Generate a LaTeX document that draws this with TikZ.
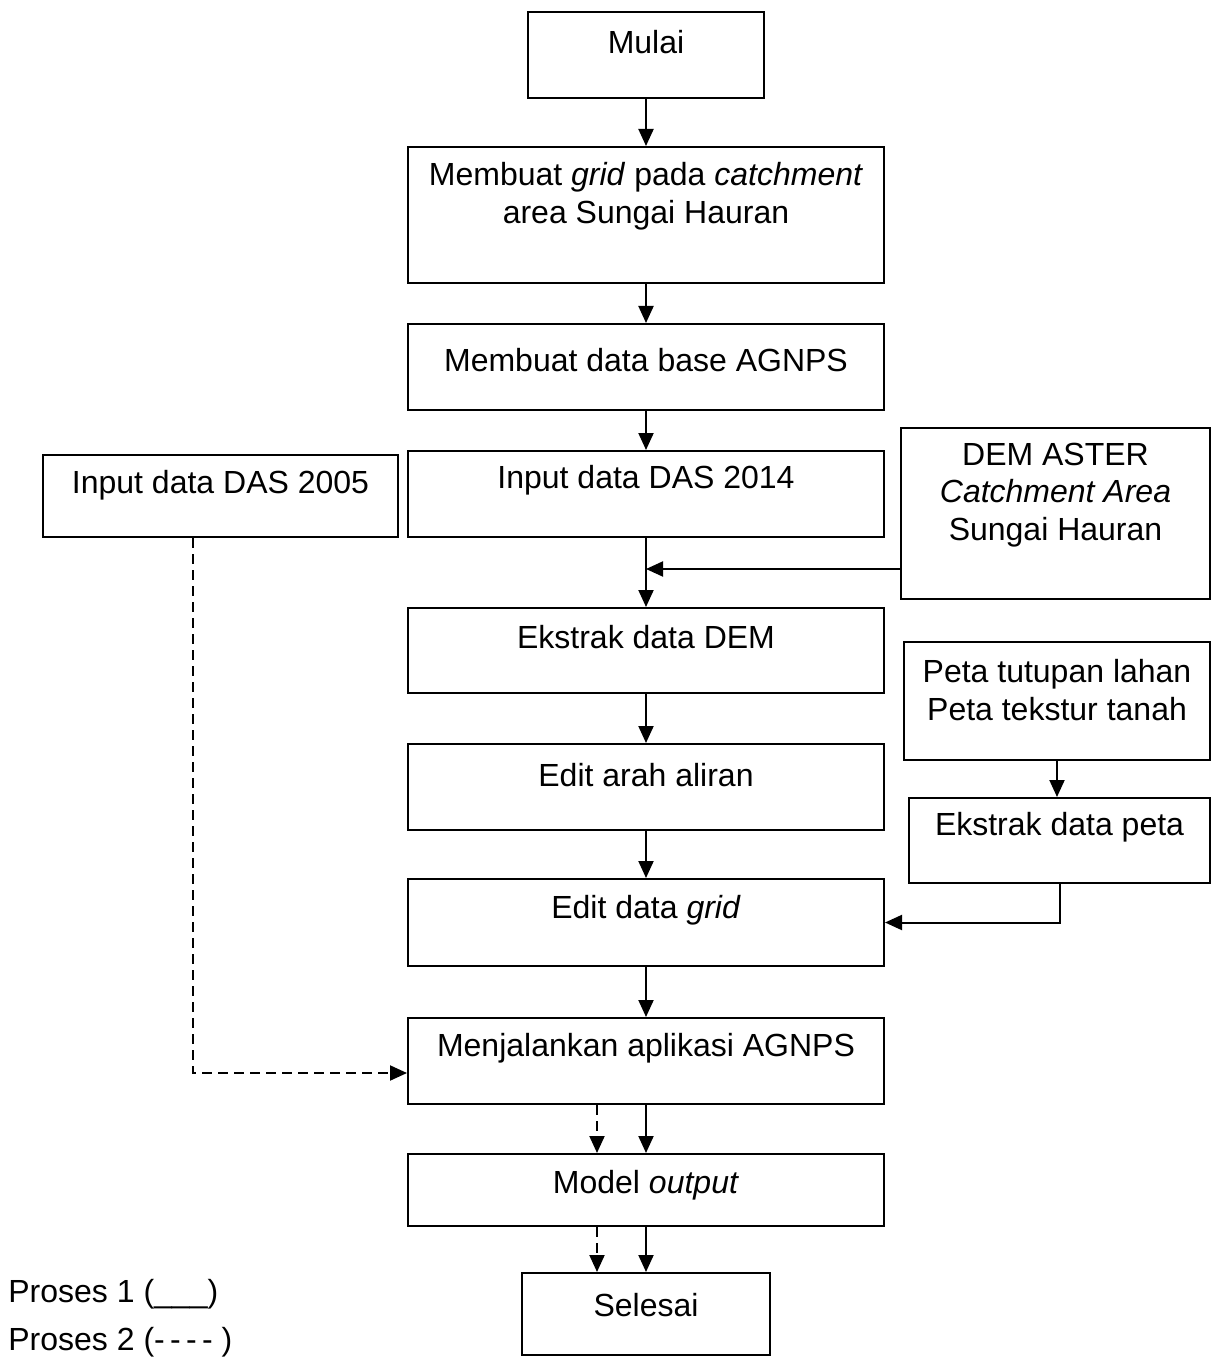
\documentclass[tikz,border=0pt]{standalone}
\usepackage{fontspec}
\setmainfont{Liberation Sans}
\usepackage{tikz}
\usetikzlibrary{arrows.meta,fit}

\begin{document}
\begin{tikzpicture}[x=.5pt, y=-.5pt]
            \tikzstyle{box} = [draw, line width = 1pt, inner sep = 0pt];
            \tikzstyle{txt} = [align = center, inner sep = 0pt, font = \fontsize{16}{18.75}\selectfont];
            \tikzstyle{arrow} = [line width = 1pt, -{Triangle[length=8.5pt, width=7.5pt]}];
            \tikzstyle{dasharrow} = [arrow, dash pattern = on 5pt off 3pt];
            \useasboundingbox (0,0) rectangle (1212,1358);
            \foreach \n/\xa/\ya/\xb/\yb/\ty/\t in {mulai/528/12/764/98/42/Mulai,
                grid/408/147/884/283/196/{Membuat \textit{grid} pada \textit{catchment}\\area Sungai Hauran},
                base/408/324/884/410/360/{Membuat data base AGNPS},
                das14/408/451/884/537/480/{Input data DAS 2014},
                das05/43/455/398/537/485/{Input data DAS 2005},
                dem/901/428/1210/599/495/{DEM ASTER\\\textit{Catchment Area}\\Sungai Hauran},
                ekdem/408/608/884/693/637/{Ekstrak data DEM},
                peta/904/642/1210/760/690/{Peta tutupan lahan\\Peta tekstur tanah},
                edarah/408/744/884/830/775/{Edit arah aliran},
                ekpeta/909/798/1210/883/827/{Ekstrak data peta},
                edgrid/408/879/884/966/910/{Edit data \textit{grid}},
                jalan/408/1018/884/1104/1048/{Menjalankan aplikasi AGNPS},
                model/408/1154/884/1226/1185/{Model \textit{output}},
                selesai/522/1273/770/1355/1305/Selesai}
            {
            \node[box, fit = {(\xa,\ya) (\xb,\yb)}] (\n) {};
            \node[txt] (\n-t) at ({(\xa+\xb)/2}, \ty) {\t};}
            \foreach \a/\b in {mulai/grid, grid/base, base/das14, das14/ekdem, ekdem/edarah, edarah/edgrid, edgrid/jalan, jalan/model, model/selesai}
            {\draw[arrow] (\a) -- (\b);}
            \coordinate (j1) at (646,569);
            \coordinate (d1) at (193,1073);
            \coordinate (d2) at (597,0);
            \draw[arrow] (dem.west |- j1) -- (j1);
            \draw[arrow] (peta.south) -- (peta.south |- ekpeta.north);
            \draw[arrow] (ekpeta.south) |- (edgrid.east);
            \draw[dasharrow] (d1 |- das05.south) |- (jalan.west |- d1);
            \draw[dasharrow] (jalan.south -| d2) -- (model.north -| d2);
            \draw[dasharrow] (model.south -| d2) -- (selesai.north -| d2);
            \node[txt, anchor = west] (leg1) at (8,1294) {Proses 1 (\_\_\_)};
            \node[txt, anchor = west] (leg2) at (8,1342) {Proses 2 (-\,-\,-\,- )};
        \end{tikzpicture}
\end{document}
